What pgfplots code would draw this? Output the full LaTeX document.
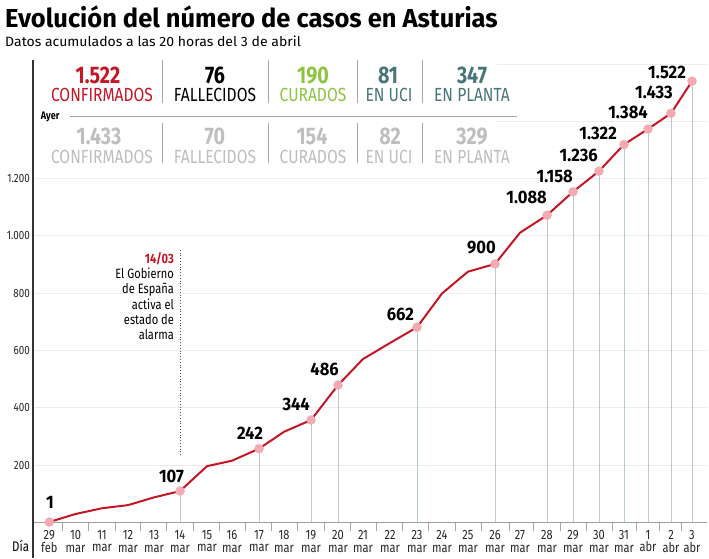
\documentclass[border=0pt]{standalone}
\usepackage{fontspec}
\setmainfont{Fira Sans}[FakeStretch=0.82]
\newfontfamily\titlef{Fira Sans}[FakeStretch=0.98]
\newfontfamily\subf{Fira Sans}[FakeStretch=1.04]
\newfontfamily\valf{Fira Sans}[FakeStretch=0.92]
\usepackage{pgfplots}
\pgfplotsset{compat=1.18}
\definecolor{rojo}{RGB}{196,22,36}
\definecolor{verde}{RGB}{140,198,63}
\definecolor{teal1}{RGB}{72,118,120}
\definecolor{gris}{RGB}{190,190,190}
\definecolor{gridc}{RGB}{236,236,236}
\definecolor{dropc}{RGB}{185,202,206}
\definecolor{rosa}{RGB}{244,170,178}
\newcommand{\fs}[1]{\fontsize{#1}{#1}\selectfont}
\begin{document}
\begin{tikzpicture}[x=1pt,y=1pt]
\useasboundingbox (0,0) rectangle (709,558);
\begin{axis}[at={(33pt,35.7pt)}, anchor=south west, scale only axis,
  width=674pt, height=462.3pt,
  xmin=33, xmax=707, ymin=0, ymax=1614, clip=false,
  axis line style={draw=none},
  tick pos=left,
  major tick length=0pt,
  ytick={200,400,...,1600},
  yticklabels={200,400,600,800,1.000,1.200,,},
  ymajorgrids, grid style={color=gridc, line width=0.8pt},
  yticklabel style={font=\fs{12}, text=black!85, anchor=east, inner sep=0pt, xshift=-3pt},
  xtick={49.3,75.5,102,128,154,180,207,232,259,284,311,338,363,390,417,442,468,495,520,547,573,599,624,648,671,692},
  xticklabels={{29\\feb},{10\\mar},{11\\mar},{12\\mar},{13\\mar},{14\\mar},{15\\mar},{16\\mar},{17\\mar},{18\\mar},{19\\mar},{20\\mar},{21\\mar},{22\\mar},{23\\mar},{24\\mar},{25\\mar},{26\\mar},{27\\mar},{28\\mar},{29\\mar},{30\\mar},{31\\mar},{1\\abr},{2\\abr},{3\\abr}},
  xticklabel style={align=center, font=\fontsize{13.5}{12.7}\selectfont, text=black!85, anchor=north, inner sep=0pt, yshift=-7.7pt},
  extra x ticks={62.7,88.3,115,140.7,166.7,193.3,219,245.7,271.7,297.7,324.3,350.5,376.7,402.7,428.3,455,481.7,509.3,533.3,560,586.7,612.7,636.7,659.3,681.7},
  extra x tick labels={},
  extra x tick style={major tick length=9pt, tick align=outside, tick style={color=gray!70, line width=0.8pt}},
  /pgf/number format/assume math mode=true,
]
\draw[gray!75, line width=1pt] (axis cs:33,0) -- (axis cs:707,0);
\addplot[ycomb, draw=dropc, line width=1pt, mark=none] coordinates {
(180,109) (259,257) (311,357) (338,479) (417,681) (495,902) (547,1072) (573,1154) (599,1226) (624,1319) (648,1373) (671,1428) (692,1540)};
\draw[dotted, line width=0.8pt, black!70] (axis cs:180,235) -- (axis cs:180,956);
\addplot[only marks, mark=*, color=rosa, mark size=4.5pt] coordinates {
(49.3,1) (180,109) (259,257) (311,357) (338,479) (417,681) (495,902) (547,1072) (573,1154) (599,1226) (624,1319) (648,1373) (671,1428) (692,1540)};
\addplot[line width=2pt, color=rojo, mark=none, line join=round] coordinates {
(49.3,1) (75.5,29) (102,49) (128,60) (154,87) (180,109) (207,196) (232,215) (259,257) (284,316) (311,357) (338,479) (363,570) (390,626) (417,681) (442,799) (468,875) (495,902) (520,1011) (547,1072) (573,1154) (599,1226) (624,1319) (648,1373) (671,1428) (692,1540)};
\end{axis}
% panel
\fill[white] (34,{558-168}) rectangle (497,{558-57});
\draw[black!80, line width=1.2pt] (33,0) -- (33,{558-60});
% titles
\node[anchor=base west, inner sep=0pt] at (5,530) {\fs{26}\titlef\bfseries Evolución del número de casos en Asturias};
\node[anchor=base west, inner sep=0pt] at (5,{558-46.7}) {\fs{13.5}\subf Datos acumulados a las 20 horas del 3 de abril};
% separators
\foreach \xx in {162,268,357,422}{
  \draw[gray!70, line width=0.8pt] (\xx,{558-60}) -- (\xx,{558-103});
  \draw[gray!70, line width=0.8pt] (\xx,{558-123}) -- (\xx,{558-163});
}
\draw[gray!70, line width=0.8pt] (70,{558-116}) -- (517,{558-116});
\node[anchor=base west, inner sep=0pt] at (40.7,{558-119.5}) {\fs{11}\bfseries Ayer};
% row 1
\begin{scope}[every node/.style={anchor=base, inner sep=0pt}]
\node[text=rojo] at (98,{558-83.3}) {\fs{24}\bfseries 1.522};
\node[text=black] at (215,{558-83.3}) {\fs{24}\bfseries 76};
\node[text=verde] at (313,{558-83.3}) {\fs{24}\bfseries 190};
\node[text=teal1] at (388,{558-83.3}) {\fs{24}\bfseries 81};
\node[text=teal1] at (472,{558-83.3}) {\fs{24}\bfseries 347};
\node[text=rojo] at (102,{558-101.7}) {\fs{19}CONFIRMADOS};
\node[text=black] at (215,{558-101.7}) {\fs{19}FALLECIDOS};
\node[text=verde] at (313,{558-101.7}) {\fs{19}CURADOS};
\node[text=teal1] at (389,{558-101.7}) {\fs{19}EN UCI};
\node[text=teal1] at (472,{558-101.7}) {\fs{19}EN PLANTA};
% row 2
\node[text=gris] at (99,{558-145}) {\fs{24}\bfseries 1.433};
\node[text=gris] at (215,{558-145}) {\fs{24}\bfseries 70};
\node[text=gris] at (312,{558-145}) {\fs{24}\bfseries 154};
\node[text=gris] at (390,{558-145}) {\fs{24}\bfseries 82};
\node[text=gris] at (472,{558-145}) {\fs{24}\bfseries 329};
\node[text=gris] at (102,{558-163.3}) {\fs{19}CONFIRMADOS};
\node[text=gris] at (215,{558-163.3}) {\fs{19}FALLECIDOS};
\node[text=gris] at (313,{558-163.3}) {\fs{19}CURADOS};
\node[text=gris] at (389,{558-163.3}) {\fs{19}EN UCI};
\node[text=gris] at (472,{558-163.3}) {\fs{19}EN PLANTA};
\end{scope}
% annotation
\begin{scope}[every node/.style={anchor=base east, inner sep=0pt, font=\fs{13.5}}]
\node[text=rojo, font=\fs{13.5}\bfseries] at (174,{558-263}) {14/03};
\node at (174,{558-278}) {El Gobierno};
\node at (174,{558-293}) {de España};
\node at (174,{558-309}) {activa el};
\node at (174,{558-324}) {estado de};
\node at (174,{558-339}) {alarma};
\end{scope}
% value labels
\begin{scope}[every node/.style={anchor=base east, inner sep=0pt, font=\fs{18}\valf\bfseries}]
\node[anchor=base] at (50,{558-508}) {1};
\node at (184,{558-482}) {107};
\node at (263,{558-439}) {242};
\node at (310,{558-410}) {344};
\node at (339,{558-375}) {486};
\node at (414,{558-320}) {662};
\node at (496,{558-253}) {900};
\node at (547,{558-203}) {1.088};
\node at (573,{558-182}) {1.158};
\node at (598,{558-162}) {1.236};
\node at (617,{558-140}) {1.322};
\node at (648,{558-119}) {1.384};
\node at (673,{558-99}) {1.433};
\node at (686,{558-79}) {1.522};
\end{scope}
\node[anchor=base west, inner sep=0pt] at (12,{558-551.5}) {\fs{14}Día};
\end{tikzpicture}
\end{document}
